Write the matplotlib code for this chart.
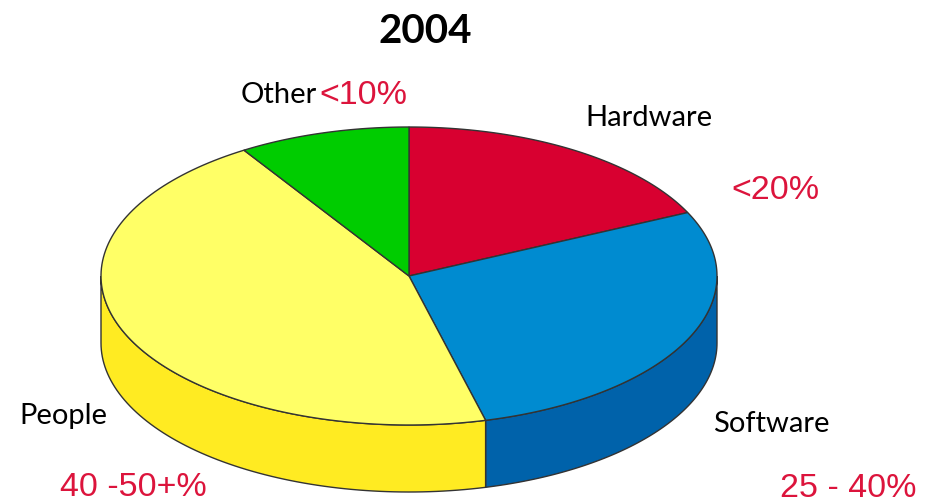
import numpy as np
import matplotlib
matplotlib.use("Agg")
import matplotlib.pyplot as plt
from matplotlib.patches import Polygon

# data
labels = ["Hardware", "Software", "People", "Other"]
values = [18, 28, 45, 9]
ranges = ["<20%", "25 - 40%", "40 -50+%", "<10%"]
top_colors = ["#D80030", "#008BD0", "#FFFF66", "#00CC00"]
side_colors = ["#A80025", "#0062AA", "#FFEB22", "#009900"]
title = "2004"

# geometry in pixel units
cx, cy, rx, ry, depth = 409, 276, 308, 149, 67
edge = "#333333"

fig = plt.figure(figsize=(9.34, 5.04), dpi=100)
ax = fig.add_axes([0, 0, 1, 1])
ax.set_xlim(0, 934)
ax.set_ylim(504, 0)
ax.axis("off")


def pt(theta, dy=0):
    t = np.radians(theta)
    return cx + rx * np.cos(t), cy - ry * np.sin(t) + dy


# slice angles, clockwise from 12 o'clock
fracs = np.array(values) / sum(values)
bounds = 90 - 360 * np.concatenate([[0], np.cumsum(fracs)])

# side walls (front half only)
for i in range(len(values)):
    hi, lo = bounds[i], bounds[i + 1]
    lo_n = lo % 360
    hi_n = lo_n + (hi - lo)
    for a, b in [(180, 360), (540, 720)]:
        s, e = max(lo_n, a), min(hi_n, b)
        if e <= s:
            continue
        th = np.linspace(s, e, 80)
        top = [pt(t) for t in th]
        bot = [pt(t, depth) for t in th[::-1]]
        ax.add_patch(Polygon(top + bot, closed=True, fc=side_colors[i],
                             ec=edge, lw=1.0, zorder=1))

# top wedges
for i in range(len(values)):
    th = np.linspace(bounds[i], bounds[i + 1], 120)
    verts = [(cx, cy)] + [pt(t) for t in th]
    ax.add_patch(Polygon(verts, closed=True, fc=top_colors[i],
                         ec=edge, lw=1.0, zorder=2))

# labels
lab_font = dict(family="Lato", size=21, color="black")
pct_font = dict(family="Liberation Sans", size=24.5, color="#DC143C")
ax.text(425, 43, title, ha="center", va="baseline", family="Lato",
        fontweight="bold", size=29)

ax.text(585, 126, labels[0], **lab_font)
ax.text(731, 199, ranges[0], **pct_font)
ax.text(713, 432, labels[1], **lab_font)
ax.text(780, 497, ranges[1], **pct_font)
ax.text(19, 424, labels[2], **lab_font)
ax.text(60, 496, ranges[2], **pct_font)
ax.text(241, 103, labels[3], **lab_font)
ax.text(319, 104, ranges[3], **pct_font)

fig.savefig("out.png", dpi=100)
